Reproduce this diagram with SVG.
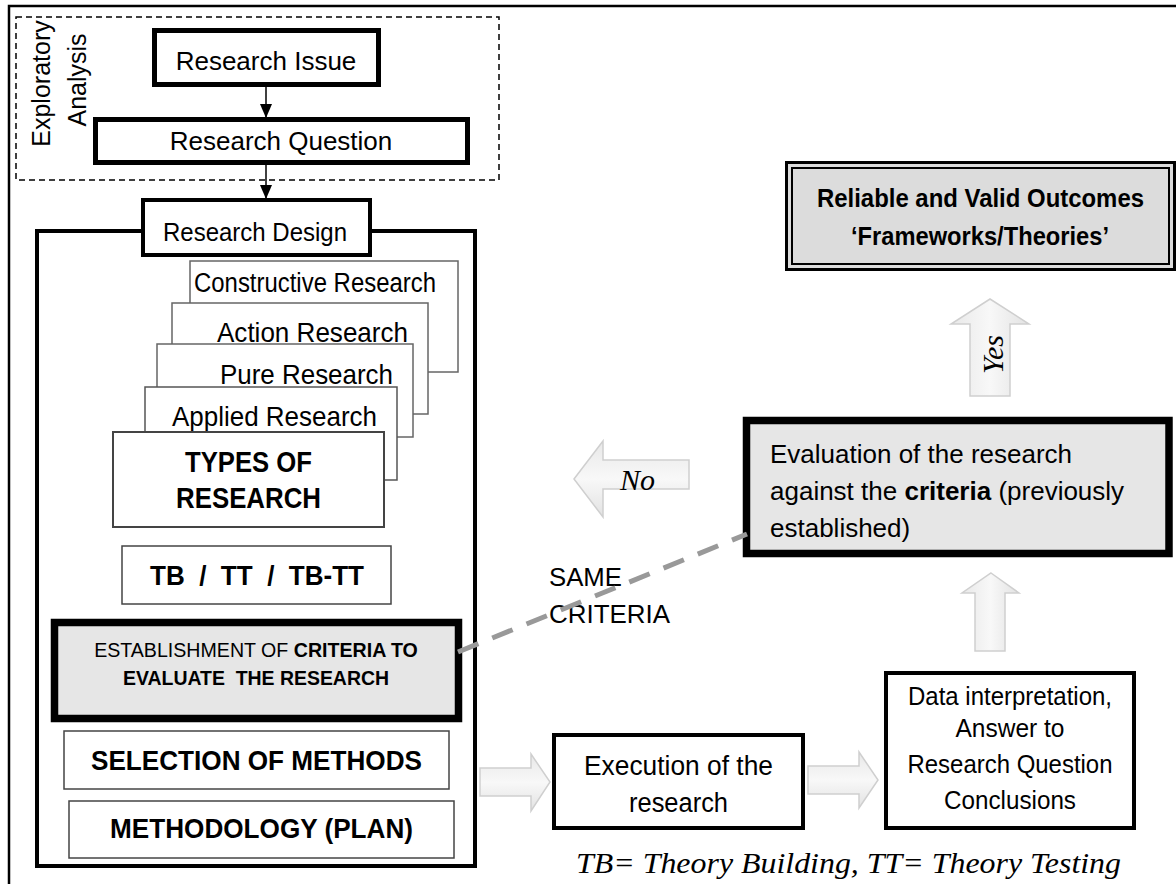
<svg xmlns="http://www.w3.org/2000/svg" width="1176" height="884" viewBox="0 0 1176 884">
<style>
  text { font-family: "Liberation Sans", Arial, sans-serif; fill: #000; }
  .b { font-weight: bold; }
  .serif { font-family: "Liberation Serif", "Times New Roman", serif; font-style: italic; }
  .thick { fill: #fff; stroke: #000; stroke-width: 4; }
  .thin { fill: #fff; stroke: #444; stroke-width: 1.5; }
  .gray { fill: #e6e6e6; stroke: #000; stroke-width: 7.5; }
  .fat { fill: url(#gh); stroke: #cfcfcf; stroke-width: 1.5; }
  .fatv { fill: url(#gv); stroke: #cfcfcf; stroke-width: 1.5; }
</style>
<defs>
  <linearGradient id="gh" x1="0" y1="0" x2="0" y2="1">
    <stop offset="0" stop-color="#e8e8e8"/>
    <stop offset="0.5" stop-color="#f8f8f8"/>
    <stop offset="1" stop-color="#e2e2e2"/>
  </linearGradient>
  <linearGradient id="gv" x1="0" y1="0" x2="1" y2="0">
    <stop offset="0" stop-color="#e8e8e8"/>
    <stop offset="0.5" stop-color="#f8f8f8"/>
    <stop offset="1" stop-color="#e2e2e2"/>
  </linearGradient>
  <marker id="ah" viewBox="0 0 14 12" refX="14" refY="6" markerWidth="14" markerHeight="12" markerUnits="userSpaceOnUse" orient="auto">
    <path d="M0,0 L14,6 L0,12 Z" fill="#000"/>
  </marker>
</defs>
<rect width="1176" height="884" fill="#fff"/>

<!-- outer frame -->
<path d="M9,884 V6 H1176" fill="none" stroke="#000" stroke-width="2.5"/>

<g id="exploratory">
  <rect x="16" y="17" width="483" height="163" fill="none" stroke="#000" stroke-width="1.5" stroke-dasharray="6 4"/>
  <text transform="translate(50,83.5) rotate(-90)" text-anchor="middle" font-size="25">Exploratory</text>
  <text transform="translate(86,80) rotate(-90)" text-anchor="middle" font-size="25">Analysis</text>
</g>

<g id="research-issue">
  <rect x="154.5" y="30.5" width="224" height="54" fill="#fff" stroke="#000" stroke-width="5"/>
  <text x="266" y="70" text-anchor="middle" font-size="26">Research Issue</text>
</g>

<g id="research-question">
  <rect x="95.5" y="119.5" width="372" height="43" fill="#fff" stroke="#000" stroke-width="5"/>
  <text x="281" y="150" text-anchor="middle" font-size="26">Research Question</text>
</g>

<g id="design-frame">
  <rect x="37" y="231" width="438" height="635" fill="#fff" stroke="#000" stroke-width="4"/>
</g>

<g id="research-design">
  <rect x="143" y="200" width="227" height="55" fill="#fff" stroke="#000" stroke-width="4"/>
  <text x="255" y="241" text-anchor="middle" font-size="25" textLength="184" lengthAdjust="spacingAndGlyphs">Research Design</text>
</g>

<g id="constructive-research">
  <rect x="190" y="261" width="268" height="111" fill="#fff" stroke="#666" stroke-width="1.5"/>
  <text x="194" y="292" font-size="27" textLength="242" lengthAdjust="spacingAndGlyphs">Constructive Research</text>
</g>
<g id="action-research">
  <rect x="172" y="303" width="256" height="111" fill="#fff" stroke="#666" stroke-width="1.5"/>
  <text x="217" y="342" font-size="28" textLength="191" lengthAdjust="spacingAndGlyphs">Action Research</text>
</g>
<g id="pure-research">
  <rect x="157" y="344" width="256" height="93" fill="#fff" stroke="#666" stroke-width="1.5"/>
  <text x="220" y="384" font-size="28" textLength="173" lengthAdjust="spacingAndGlyphs">Pure Research</text>
</g>
<g id="applied-research">
  <rect x="145" y="387" width="252" height="93" fill="#fff" stroke="#555" stroke-width="1.5"/>
  <text x="172" y="426" font-size="28" textLength="205" lengthAdjust="spacingAndGlyphs">Applied Research</text>
</g>
<g id="types-of-research">
  <rect x="113" y="432" width="271" height="95" fill="#fff" stroke="#444" stroke-width="2"/>
  <text x="248.5" y="472" text-anchor="middle" font-size="29" class="b" textLength="127" lengthAdjust="spacingAndGlyphs">TYPES OF</text>
  <text x="248.5" y="508" text-anchor="middle" font-size="29" class="b" textLength="145" lengthAdjust="spacingAndGlyphs">RESEARCH</text>
</g>

<g id="tb-tt">
  <rect x="122" y="546" width="269" height="58" class="thin"/>
  <text x="150" y="585" font-size="27" class="b" xml:space="preserve" textLength="214" lengthAdjust="spacingAndGlyphs">TB  /  TT  /  TB-TT</text>
</g>

<g id="establishment">
  <rect x="54.5" y="622.5" width="404" height="96" class="gray"/>
  <text x="256" y="657" text-anchor="middle" font-size="19.6">ESTABLISHMENT OF <tspan class="b">CRITERIA TO</tspan></text>
  <text x="123" y="685" font-size="21" class="b" xml:space="preserve" textLength="266" lengthAdjust="spacingAndGlyphs">EVALUATE  THE RESEARCH</text>
</g>

<g id="selection">
  <rect x="64" y="731" width="385" height="58" class="thin" stroke="#333"/>
  <text x="91" y="770" font-size="27" class="b" textLength="331" lengthAdjust="spacingAndGlyphs">SELECTION OF METHODS</text>
</g>

<g id="methodology">
  <rect x="69" y="801" width="385" height="57" class="thin" stroke="#333"/>
  <text x="110" y="838" font-size="27" class="b" textLength="303" lengthAdjust="spacingAndGlyphs">METHODOLOGY (PLAN)</text>
</g>

<g id="execution">
  <rect x="554" y="735" width="249" height="93" class="thick"/>
  <text x="678.5" y="775" text-anchor="middle" font-size="27" textLength="189" lengthAdjust="spacingAndGlyphs">Execution of the</text>
  <text x="678.5" y="812" text-anchor="middle" font-size="27" textLength="99" lengthAdjust="spacingAndGlyphs">research</text>
</g>

<g id="data-interpretation">
  <rect x="886" y="673" width="248" height="155" class="thick"/>
  <text x="1010" y="705" text-anchor="middle" font-size="26" textLength="204" lengthAdjust="spacingAndGlyphs">Data interpretation,</text>
  <text x="1010" y="737" text-anchor="middle" font-size="26" textLength="109" lengthAdjust="spacingAndGlyphs">Answer to</text>
  <text x="1010" y="773" text-anchor="middle" font-size="26" textLength="205" lengthAdjust="spacingAndGlyphs">Research Question</text>
  <text x="1010" y="809" text-anchor="middle" font-size="26" textLength="132" lengthAdjust="spacingAndGlyphs">Conclusions</text>
</g>

<g id="evaluation">
  <rect x="746.5" y="420.5" width="422.5" height="133" class="gray" stroke-width="7"/>
  <text x="770" y="463" font-size="26">Evaluation of the research</text>
  <text x="770" y="500" font-size="26">against the <tspan class="b">criteria</tspan> (previously</text>
  <text x="770" y="537" font-size="26">established)</text>
</g>

<g id="outcomes">
  <rect x="786.5" y="162.5" width="388" height="107" fill="#dcdcdc" stroke="#000" stroke-width="3"/>
  <rect x="792" y="168" width="377" height="96" fill="none" stroke="#000" stroke-width="2"/>
  <text x="980.5" y="207" text-anchor="middle" font-size="26" class="b" textLength="327" lengthAdjust="spacingAndGlyphs">Reliable and Valid Outcomes</text>
  <text x="980" y="245" text-anchor="middle" font-size="26" class="b" textLength="258" lengthAdjust="spacingAndGlyphs">‘Frameworks/Theories’</text>
</g>

<g id="labels">
  <text x="549" y="586" font-size="25" textLength="73" lengthAdjust="spacingAndGlyphs">SAME</text>
  <text x="549" y="623" font-size="25" textLength="121" lengthAdjust="spacingAndGlyphs">CRITERIA</text>
  <text x="576" y="873" font-size="29" class="serif" textLength="545" lengthAdjust="spacingAndGlyphs">TB= Theory Building, TT= Theory Testing</text>
</g>

<g id="connectors">
  <line x1="266" y1="87" x2="266" y2="118" stroke="#000" stroke-width="1.5" marker-end="url(#ah)"/>
  <line x1="266" y1="165" x2="266" y2="199" stroke="#000" stroke-width="1.5" marker-end="url(#ah)"/>
  <line x1="458" y1="652" x2="747" y2="534" stroke="#999" stroke-width="5" stroke-dasharray="22 15"/>
  <polygon class="fat" points="480,768 531,768 531,754 550,782 531,811 531,796 480,796"/>
  <polygon class="fat" points="808,766 859,766 859,752 878,780 859,808 859,794 808,794"/>
  <polygon class="fatv" points="991,573 1019,593 1005,593 1005,651 975,651 975,593 962,593"/>
  <polygon class="fatv" points="990,299 1029,324 1010,324 1010,396 970,396 970,324 951,324"/>
  <polygon class="fat" points="574,479 603,441 603,460 689,460 689,489 603,489 603,517"/>
  <text x="620" y="490" font-size="30" class="serif">No</text>
  <text transform="translate(1003,354.5) rotate(-90)" text-anchor="middle" font-size="30" class="serif">Yes</text>
</g>
</svg>
